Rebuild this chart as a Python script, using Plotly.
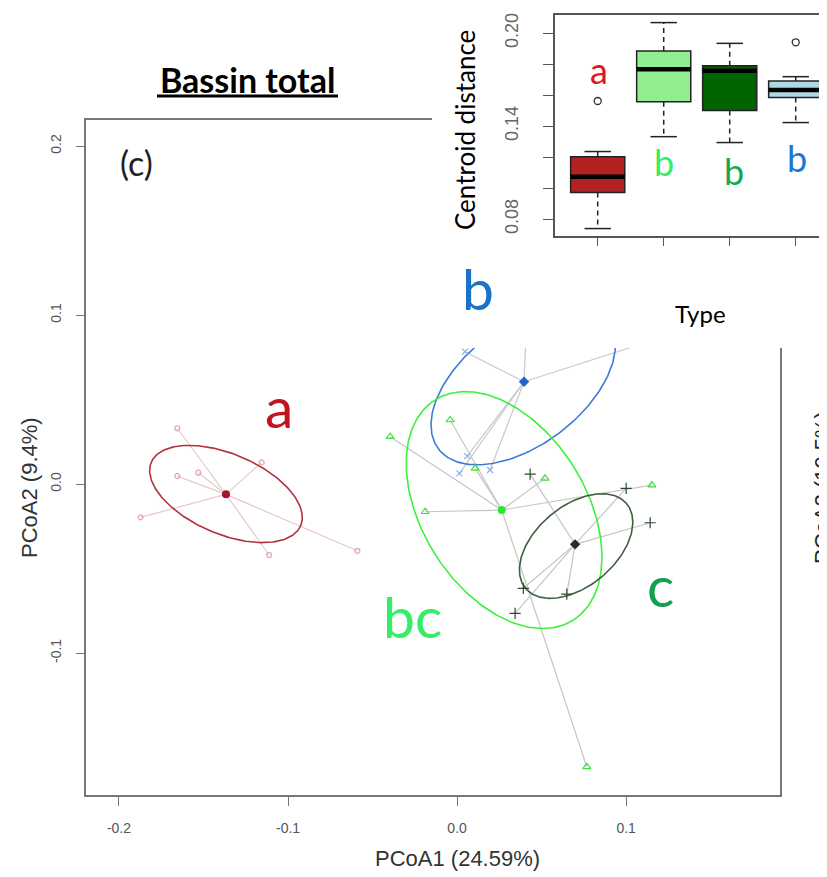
import numpy as np
import plotly.graph_objects as go

# page body has an 8px margin -> figure is drawn 8px in from the window corner
OFF = 8
W, H = 827 - OFF, 877 - OFF

# ---------------- data: PCoA scores (main panel) ----------------
red_x = [-0.1655, -0.1655, -0.1531, -0.1156, -0.1872, -0.1112, -0.0590]
red_y = [0.0330, 0.0047, 0.0067, 0.0128, -0.0197, -0.0420, -0.0395]
red_centroid = [-0.1367, -0.0061]

blue_x = [0.0047, 0.0060, 0.0014, 0.0195, 0.0412, 0.1200]
blue_y = [0.0783, 0.0165, 0.0063, 0.0083, 0.1000, 0.0864]
blue_centroid = [0.0396, 0.0605]

lgreen_x = [-0.0041, -0.0396, 0.0107, 0.0520, 0.1152, -0.0189, 0.0767]
lgreen_y = [0.0379, 0.0280, 0.0093, 0.0034, -0.0006, -0.0164, -0.1673]
lgreen_centroid = [0.0264, -0.0154]

dgreen_x = [0.0432, 0.1000, 0.1142, 0.0649, 0.0392, 0.0343]
dgreen_y = [0.0059, -0.0026, -0.0229, -0.0651, -0.0617, -0.0765]
dgreen_centroid = [0.0698, -0.0357]

# ellipses (centre, semi-axes, rotation in degrees)
ell_cx = [-0.1367, 0.0391, 0.0278, 0.0704]
ell_cy = [-0.0059, 0.0586, -0.0154, -0.0367]
ell_a = [0.0480, 0.0628, 0.0769, 0.0390]
ell_b = [0.0237, 0.0355, 0.0485, 0.0237]
ell_ang = [-23, 37, -58, 40]

group_letters = ["a", "b", "bc", "c"]

x_tickvals = [-0.2, -0.1, 0.0, 0.1]
x_ticktext = ["-0.2", "-0.1", "0.0", "0.1"]
y_tickvals = [-0.1, 0.0, 0.1, 0.2]
y_ticktext = ["-0.1", "0.0", "0.1", "0.2"]

# ---------------- data: inset boxplot (centroid distance) ----------------
box_pos = [1, 2, 3, 4]
box_lo = [0.0740, 0.1333, 0.1295, 0.1424]
box_q1 = [0.0972, 0.1559, 0.1501, 0.1585]
box_med = [0.1075, 0.1768, 0.1759, 0.1634]
box_q3 = [0.1204, 0.1886, 0.1791, 0.1692]
box_hi = [0.1237, 0.2069, 0.1935, 0.1720]
out_pos = [1, 4]
out_val = [0.1563, 0.1942]
box_letters = ["a", "b", "b", "b"]
inset_tickvals = [0.08, 0.10, 0.12, 0.14, 0.16, 0.18, 0.20]
inset_ticktext = ["0.08", "", "", "0.14", "", "", "0.20"]

# ---------------- helpers ----------------
def px_x(p):
    return (p - OFF) / W

def px_y(p):
    return 1 - (p - OFF) / H

def ellipse(cx, cy, a, b, ang, n=240):
    t = np.linspace(0, 2 * np.pi, n)
    th = np.deg2rad(ang)
    x = cx + a * np.cos(t) * np.cos(th) - b * np.sin(t) * np.sin(th)
    y = cy + a * np.cos(t) * np.sin(th) + b * np.sin(t) * np.cos(th)
    return x, y

def spider(xs, ys, c):
    lx, ly = [], []
    for x, y in zip(xs, ys):
        lx += [c[0], x, None]
        ly += [c[1], y, None]
    return lx, ly

fig = go.Figure()

groups = [
    dict(x=red_x, y=red_y, c=red_centroid, ell="#b5303f", pt="#e3a3aa", sym="circle-open", size=5,
         cen="#a5122e", csym="circle", spider="#e6c9cc"),
    dict(x=blue_x, y=blue_y, c=blue_centroid, ell="#3d7bd6", pt="#86aee8", sym="x-thin-open", size=6,
         cen="#1f63c8", csym="diamond", spider="#c9c9c9"),
    dict(x=lgreen_x, y=lgreen_y, c=lgreen_centroid, ell="#3cf03c", pt="#3fe03f", sym="triangle-up-open", size=7,
         cen="#2ee82e", csym="circle", spider="#c6c6c6"),
    dict(x=dgreen_x, y=dgreen_y, c=dgreen_centroid, ell="#3f5f3f", pt="#2f4a2f", sym="cross-thin-open", size=8,
         cen="#1c351c", csym="diamond", spider="#c4c4c4"),
]

for g in groups:
    lx, ly = spider(g["x"], g["y"], g["c"])
    fig.add_trace(go.Scatter(x=lx, y=ly, mode="lines", line=dict(color=g["spider"], width=1.2),
                             hoverinfo="skip", showlegend=False))
for i, g in enumerate(groups):
    ex, ey = ellipse(ell_cx[i], ell_cy[i], ell_a[i], ell_b[i], ell_ang[i])
    fig.add_trace(go.Scatter(x=ex, y=ey, mode="lines", line=dict(color=g["ell"], width=1.6),
                             hoverinfo="skip", showlegend=False))
for g in groups:
    fig.add_trace(go.Scatter(x=g["x"], y=g["y"], mode="markers",
                             marker=dict(symbol=g["sym"], size=g["size"], color=g["pt"],
                                         line=dict(color=g["pt"], width=1.2)),
                             showlegend=False))
    fig.add_trace(go.Scatter(x=[g["c"][0]], y=[g["c"][1]], mode="markers",
                             marker=dict(symbol=g["csym"], size=8, color=g["cen"]),
                             showlegend=False))

# ---------------- white cover for inset (subplot x2/y2, window-pixel coords) ----------------
fig.add_trace(go.Scatter(x=[432, 827, 827, 534, 534, 432, 432], y=[0, 0, 348, 348, 250, 250, 0],
                         mode="lines", fill="toself", fillcolor="white", line=dict(width=0, color="white"),
                         xaxis="x2", yaxis="y2", hoverinfo="skip", showlegend=False))

# ---------------- inset boxplot (x3/y3) ----------------
box_fill = ["#b22222", "#90ee90", "#006400", "#add8e6"]
for i in range(4):
    fig.add_trace(go.Box(x=[box_pos[i]], q1=[box_q1[i]], median=[box_med[i]], q3=[box_q3[i]],
                         lowerfence=[box_q1[i]], upperfence=[box_q3[i]], width=0.82,
                         fillcolor=box_fill[i], line=dict(color="#222222", width=1.5),
                         xaxis="x3", yaxis="y3", boxpoints=False, whiskerwidth=0,
                         hoverinfo="skip", showlegend=False))
wx, wy, cx_, cy_, mx, my = [], [], [], [], [], []
for i in range(4):
    p = box_pos[i]
    wx += [p, p, None, p, p, None]
    wy += [box_q3[i], box_hi[i], None, box_q1[i], box_lo[i], None]
    cx_ += [p - 0.2, p + 0.2, None, p - 0.2, p + 0.2, None]
    cy_ += [box_hi[i], box_hi[i], None, box_lo[i], box_lo[i], None]
    mx += [p - 0.41, p + 0.41, None]
    my += [box_med[i], box_med[i], None]
fig.add_trace(go.Scatter(x=wx, y=wy, mode="lines", line=dict(color="#222", width=1.5, dash="5px,4px"),
                         xaxis="x3", yaxis="y3", hoverinfo="skip", showlegend=False))
fig.add_trace(go.Scatter(x=cx_, y=cy_, mode="lines", line=dict(color="#222", width=1.5),
                         xaxis="x3", yaxis="y3", hoverinfo="skip", showlegend=False))
fig.add_trace(go.Scatter(x=mx, y=my, mode="lines", line=dict(color="#000", width=4.5),
                         xaxis="x3", yaxis="y3", hoverinfo="skip", showlegend=False))
fig.add_trace(go.Scatter(x=out_pos, y=out_val, mode="markers",
                         marker=dict(symbol="circle-open", size=7, color="#333", line=dict(width=1.3)),
                         xaxis="x3", yaxis="y3", hoverinfo="skip", showlegend=False))

# ---------------- layout ----------------
tickfont = dict(family="Liberation Sans, Arial", size=14, color="#555")
fig.update_layout(
    template="none",
    width=W, height=H, margin=dict(l=0, r=0, t=0, b=0, pad=0, autoexpand=False),
    paper_bgcolor="white", plot_bgcolor="white", showlegend=False,
    xaxis=dict(domain=[px_x(86), px_x(780)], range=[-0.2195, 0.191], anchor="y", automargin=False,
               showgrid=False, zeroline=False,
               showline=True, mirror=True, linecolor="#777", linewidth=1.5,
               ticks="outside", ticklen=9, tickcolor="#777", tickwidth=1.3,
               tickvals=x_tickvals, ticktext=x_ticktext, tickfont=tickfont, ticklabelstandoff=10),
    yaxis=dict(domain=[px_y(795), px_y(120)], range=[-0.184, 0.2154], anchor="x", automargin=False,
               showgrid=False, zeroline=False,
               showline=True, mirror=True, linecolor="#777", linewidth=1.5,
               ticks="outside", ticklen=8, tickcolor="#777", tickwidth=1.3,
               tickvals=y_tickvals, ticktext=y_ticktext, tickfont=tickfont, tickangle=-90,
               ticklabelstandoff=10),
    xaxis2=dict(domain=[px_x(432), 1], range=[432, 827], anchor="y2", visible=False, automargin=False),
    yaxis2=dict(domain=[px_y(348), 1], range=[348, OFF], anchor="x2", visible=False, automargin=False),
    xaxis3=dict(domain=[px_x(555), 1], range=[0.353, 4.474], anchor="y3", automargin=False,
                showgrid=False, zeroline=False,
                showline=True, mirror=True, linecolor="#555", linewidth=1.6,
                ticks="outside", ticklen=8, tickcolor="#555", tickvals=box_pos, showticklabels=False),
    yaxis3=dict(domain=[px_y(236), px_y(15)], range=[0.0692, 0.2118], anchor="x3", automargin=False,
                showgrid=False, zeroline=False,
                showline=True, mirror=False, linecolor="#555", linewidth=1.6,
                ticks="outside", ticklen=10, tickcolor="#555",
                tickvals=inset_tickvals, ticktext=inset_ticktext, tickangle=-90,
                tickfont=dict(family="Liberation Sans, Arial", size=18, color="#666"),
                ticklabelstandoff=18),
)

ann = []
main_letter_pos = [(-0.1053, 0.0461), (0.0124, 0.1160), (-0.0266, -0.0781), (0.1201, -0.0597)]
main_letter_col = ["#c0141f", "#1a73c8", "#33ee66", "#14a050"]
for t, (x, y), c in zip(group_letters, main_letter_pos, main_letter_col):
    ann.append(dict(x=x, y=y, xref="x", yref="y", text=t, showarrow=False,
                    xanchor="center", yanchor="middle",
                    font=dict(family="Lato", size=57, color=c)))
inset_letter_x = [1.02, 2.0, 3.07, 4.02]
inset_letter_y = [0.1763, 0.1170, 0.1110, 0.1195]
inset_letter_col = ["#e0141e", "#33ee66", "#14aa55", "#1a7ad0"]
for x, t, y, c in zip(inset_letter_x, box_letters, inset_letter_y, inset_letter_col):
    ann.append(dict(x=x, y=y, xref="x3", yref="y3", text=t, showarrow=False,
                    xanchor="center", yanchor="middle",
                    font=dict(family="Lato", size=36, color=c)))

def lab(px, py, text, size, family="Lato", color="#000", angle=0, xanchor="center"):
    return dict(x=px_x(px), y=px_y(py), xref="paper", yref="paper", text=text, showarrow=False,
                xanchor=xanchor, yanchor="middle", textangle=angle,
                font=dict(family=family, size=size, color=color))

ann += [
    lab(247.5, 80, "<b>Bassin total</b>", 34),
    lab(136.5, 162, "(c)", 34, color="#222"),
    lab(457, 858, "PCoA1 (24.59%)", 22, family="Liberation Sans, Arial", color="#333"),
    lab(30, 488, "PCoA2 (9.4%)", 22, family="Liberation Sans, Arial", color="#333", angle=-90),
    lab(465, 130, "Centroid distance", 26, angle=-90),
    lab(700, 313, "Type", 24),
    lab(823, 488, "PCoA2 (10.5%)", 22, family="Liberation Sans, Arial", color="#222", angle=-90),
]
fig.update_layout(annotations=ann)
fig.add_shape(type="line", xref="paper", yref="paper", x0=px_x(157), x1=px_x(338), y0=px_y(96), y1=px_y(96),
              line=dict(color="#000", width=3))

fig.write_html("out.html")
